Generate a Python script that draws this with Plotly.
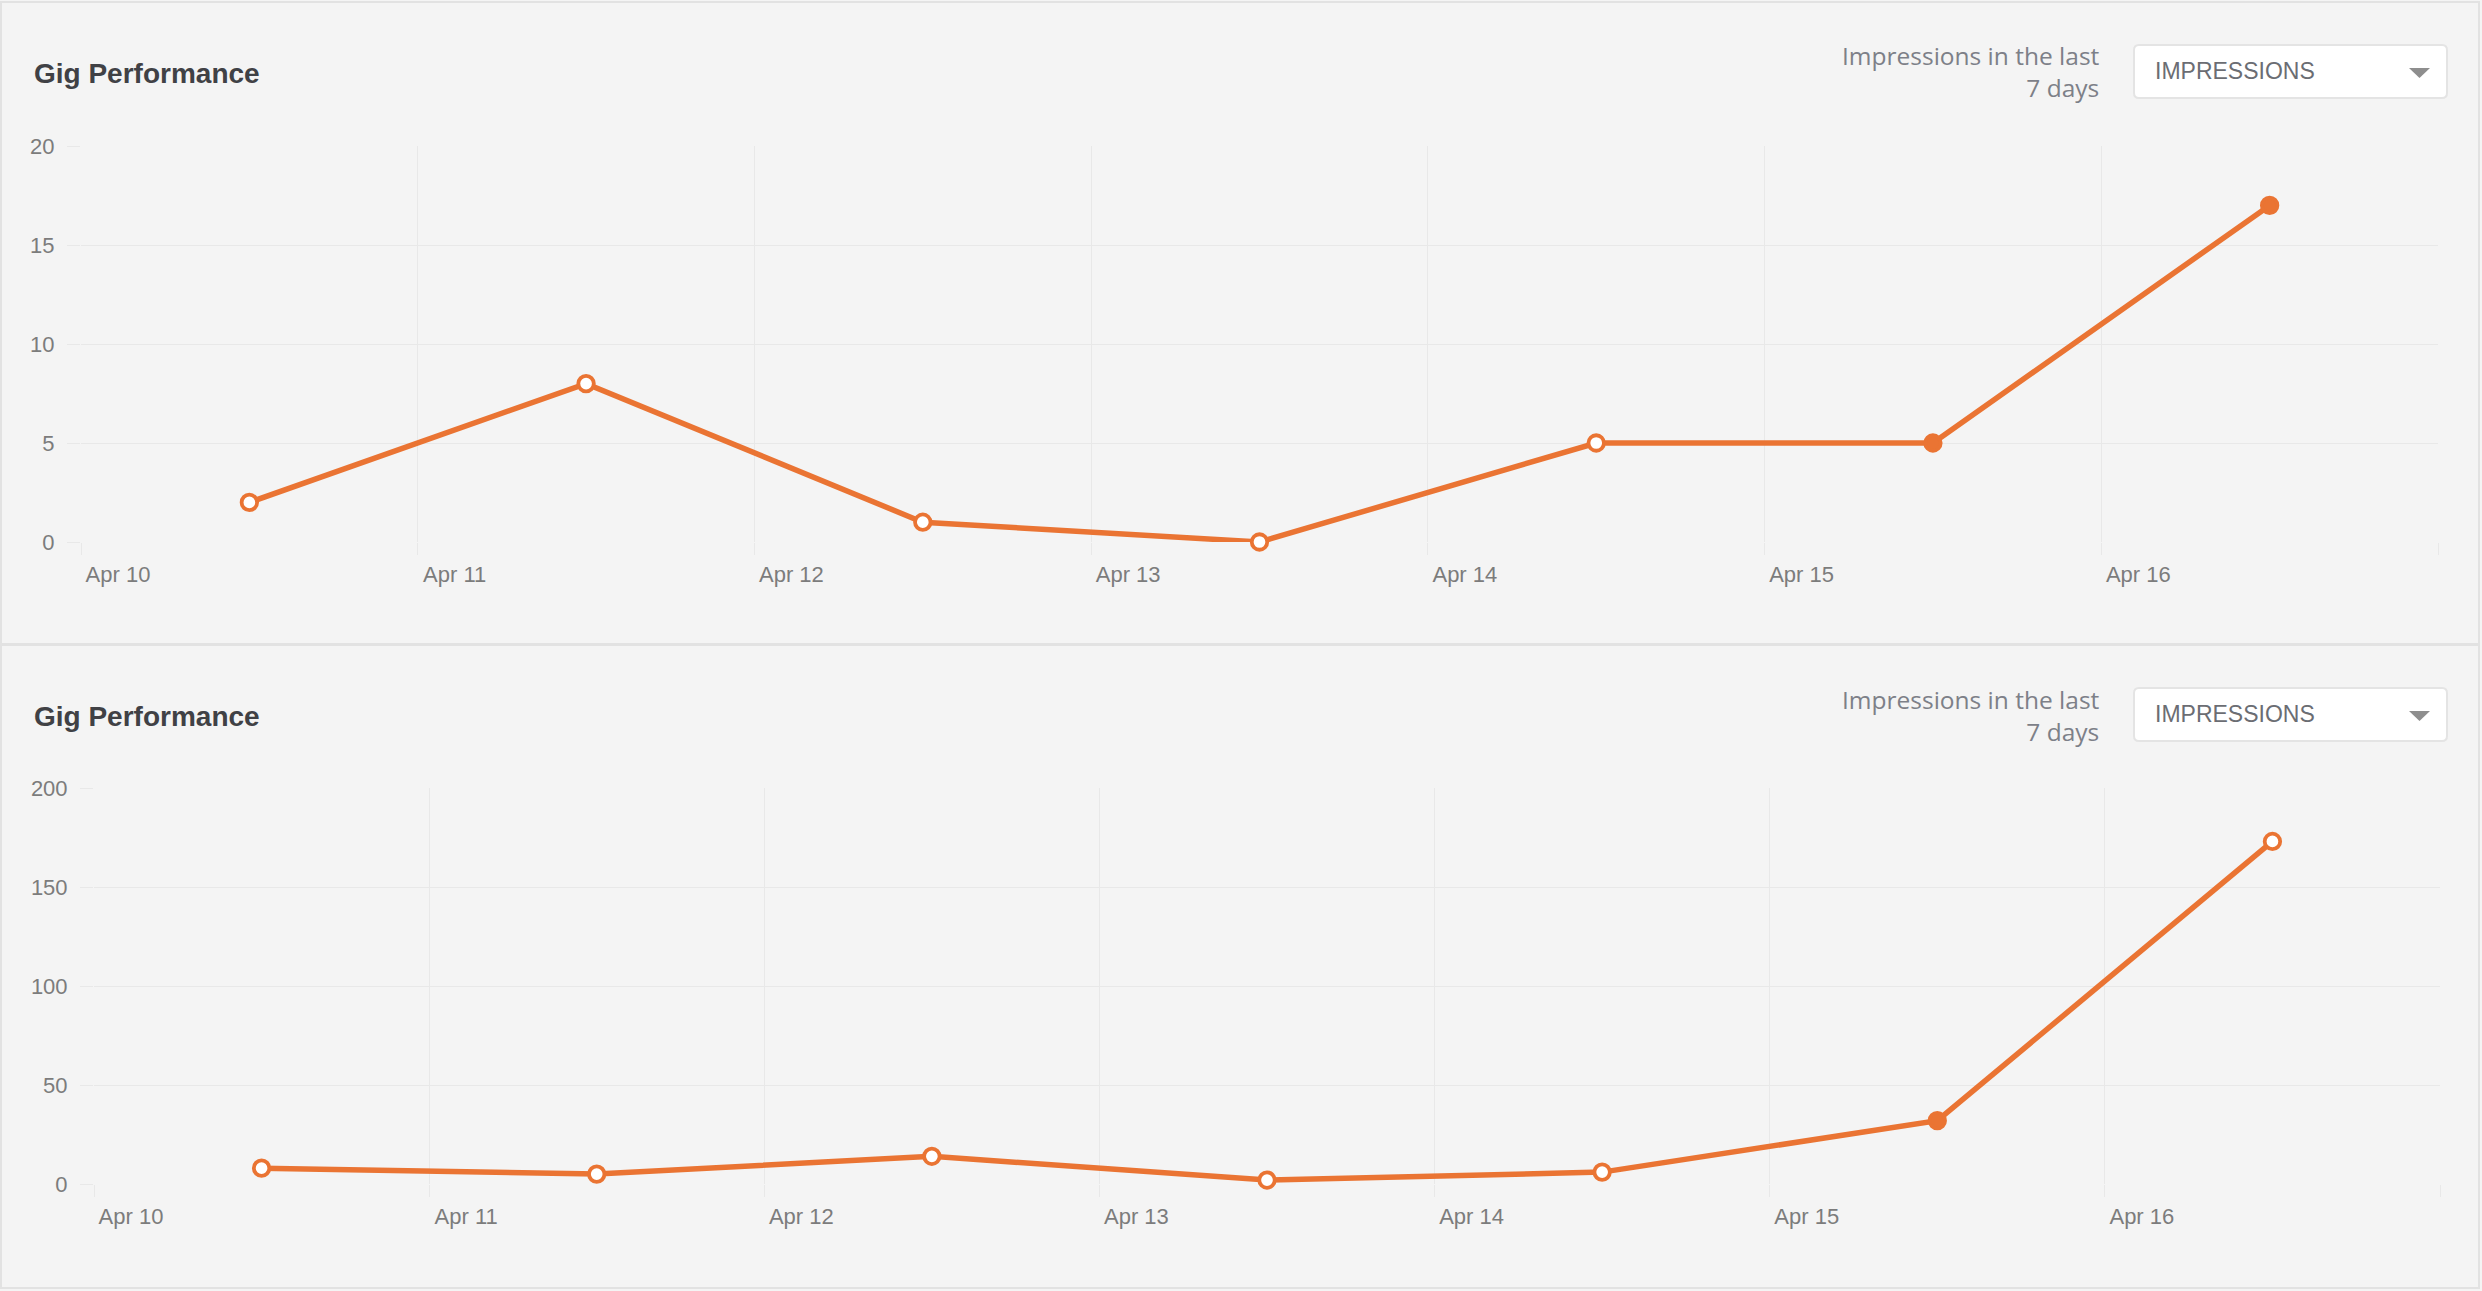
import pandas as pd
import plotly.graph_objects as go

# ---------------- data ----------------
days = ["2024-04-10", "2024-04-11", "2024-04-12", "2024-04-13",
        "2024-04-14", "2024-04-15", "2024-04-16"]
tick_labels = ["Apr 10", "Apr 11", "Apr 12", "Apr 13", "Apr 14", "Apr 15", "Apr 16", ""]
top_impressions = [2, 8, 1, 0, 5, 5, 17]
bottom_impressions = [8, 5, 14, 2, 6, 32, 173]
top_ticks = [0, 5, 10, 15, 20]
bottom_ticks = [0, 50, 100, 150, 200]
title_text = "Gig Performance"
caption_text = "Impressions in the last<br>7 days"
dropdown_text = "IMPRESSIONS"

# ---------------- style ----------------
W, H = 2482, 1291
BG = "#f4f4f4"
GRID = "#e8e8e8"
ORANGE = "#ea7433"
TICK_COLOR = "#7c7c7c"
FONT = "Liberation Sans, Arial, sans-serif"

top_filled = [False, False, False, False, False, True, True]
bottom_filled = [False, False, False, False, False, True, False]

def px(x):
    return x / W

def py(y):
    return 1 - y / H

x_points = [pd.Timestamp(d) + pd.Timedelta(hours=12) for d in days]
tick_dates = [pd.Timestamp(d) for d in days] + [pd.Timestamp(days[-1]) + pd.Timedelta(days=1)]
x_range = [tick_dates[0], tick_dates[-1]]

fig = go.Figure()

def add_series(values, filled, xaxis, yaxis):
    fig.add_trace(go.Scatter(
        x=x_points, y=values, mode="lines+markers",
        line=dict(color=ORANGE, width=5.5),
        marker=dict(size=15.5, color=[ORANGE if f else "#ffffff" for f in filled],
                    line=dict(color=ORANGE, width=3.8)),
        xaxis=xaxis, yaxis=yaxis, showlegend=False, cliponaxis=False,
    ))

add_series(top_impressions, top_filled, "x", "y")
add_series(bottom_impressions, bottom_filled, "x2", "y2")

xcommon = dict(
    type="date", range=x_range, tickmode="array", tickvals=tick_dates, ticktext=tick_labels,
    showgrid=True, gridcolor=GRID, gridwidth=1, zeroline=False, showline=False,
    ticks="outside", ticklen=12, tickcolor=GRID, tickwidth=1,
    tickfont=dict(family=FONT, size=22, color=TICK_COLOR),
    ticklabelshift=37, ticklabelstandoff=1, fixedrange=True, automargin=False,
)
ycommon = dict(
    showgrid=True, gridcolor=GRID, gridwidth=1, zeroline=False, showline=False,
    ticks="outside", ticklen=13, tickcolor=GRID, tickwidth=1,
    tickfont=dict(family=FONT, size=22, color=TICK_COLOR),
    ticklabelstandoff=8, tickmode="array", fixedrange=True, automargin=False,
)

fig.update_layout(
    width=W, height=H, autosize=False,
    margin=dict(l=0, r=0, t=0, b=0, pad=0, autoexpand=False),
    paper_bgcolor=BG, plot_bgcolor=BG,
    xaxis=dict(domain=[px(81), px(2438)], anchor="y", **xcommon),
    yaxis=dict(domain=[py(542), py(146)], anchor="x", range=[0, 20], tickvals=top_ticks, **ycommon),
    xaxis2=dict(domain=[px(94), px(2440)], anchor="y2", **xcommon),
    yaxis2=dict(domain=[py(1184), py(788)], anchor="x2", range=[0, 200], tickvals=bottom_ticks, **ycommon),
)

shapes = []
annotations = []

# card borders
for (y0, y1) in [(2, 644), (645, 1288)]:
    shapes.append(dict(type="rect", xref="paper", yref="paper",
                       x0=px(1), x1=px(2479), y0=py(y1), y1=py(y0),
                       line=dict(color="#e2e2e2", width=2), fillcolor="rgba(0,0,0,0)", layer="below"))

def rounded_rect(x0, y0, x1, y1, r):
    pts = [
        f"M {px(x0 + r)},{py(y0)}",
        f"L {px(x1 - r)},{py(y0)}",
        f"Q {px(x1)},{py(y0)} {px(x1)},{py(y0 + r)}",
        f"L {px(x1)},{py(y1 - r)}",
        f"Q {px(x1)},{py(y1)} {px(x1 - r)},{py(y1)}",
        f"L {px(x0 + r)},{py(y1)}",
        f"Q {px(x0)},{py(y1)} {px(x0)},{py(y1 - r)}",
        f"L {px(x0)},{py(y0 + r)}",
        f"Q {px(x0)},{py(y0)} {px(x0 + r)},{py(y0)}",
        "Z",
    ]
    return " ".join(pts)

for off in [0, 643]:
    annotations.append(dict(text=f"<b>{title_text}</b>", xref="paper", yref="paper",
                            x=px(32), y=py(73 + off), xanchor="left", yanchor="middle",
                            showarrow=False, font=dict(family=FONT, size=28, color="#404145")))
    annotations.append(dict(text=caption_text, xref="paper", yref="paper",
                            x=px(2102), y=py(72 + off), xanchor="right", yanchor="middle",
                            align="right", showarrow=False,
                            font=dict(family="Open Sans, sans-serif", size=24.5, color="#7d8088")))
    shapes.append(dict(type="path", xref="paper", yref="paper",
                       path=rounded_rect(2134, 45 + off, 2447, 98 + off, 5),
                       fillcolor="#ffffff", line=dict(color="#e4e4e4", width=2)))
    annotations.append(dict(text=dropdown_text, xref="paper", yref="paper",
                            x=px(2153), y=py(71 + off), xanchor="left", yanchor="middle",
                            showarrow=False, font=dict(family=FONT, size=23, color="#6b6d73")))
    shapes.append(dict(type="path", xref="paper", yref="paper",
                       path=f"M {px(2409)},{py(68 + off)} L {px(2430)},{py(68 + off)} L {px(2419.5)},{py(78 + off)} Z",
                       fillcolor="#8e8e8e", line=dict(width=0)))

fig.update_layout(shapes=shapes, annotations=annotations)

fig.write_html(
    "out.html",
    config={"displayModeBar": False},
    post_script="document.documentElement.style.margin='0';document.body.style.margin='0';document.body.style.overflow='hidden';",
)
